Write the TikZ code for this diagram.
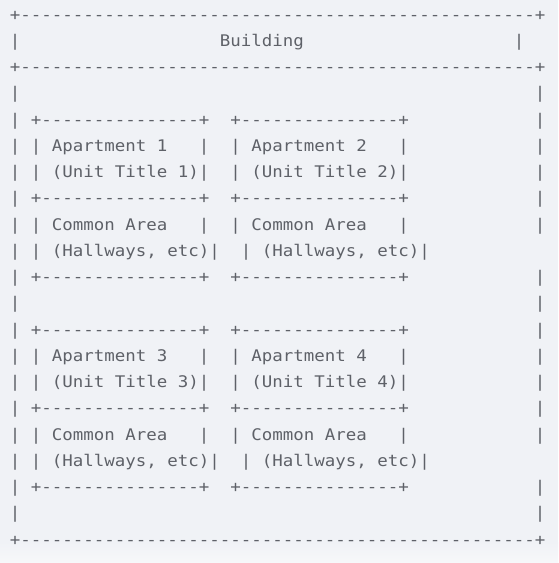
\documentclass[tikz,border=0pt]{standalone}
\usepackage{fontspec}
\setmonofont[FakeStretch=1.09,Ligatures=TeXOff]{DejaVu Sans Mono}
\definecolor{page-bg}{HTML}{F0F2F6}
\definecolor{page-fade}{HTML}{F7F8FA}
\definecolor{ascii-gray}{HTML}{5E6168}

\begin{document}
\begin{tikzpicture}[
      x=10.5pt, y=-26.25pt,
      ascii/.style={font=\ttfamily\fontsize{16pt}{18pt}\selectfont, text=ascii-gray, inner sep=0pt, anchor=base west}
    ]
      \fill[page-bg] (-9.75pt,20pt) rectangle (548.25pt,-543pt);
      \shade[top color=page-bg, bottom color=page-fade] (-9.75pt,-522pt) rectangle (548.25pt,-543pt);
      \useasboundingbox (-9.75pt,20pt) rectangle (548.25pt,-543pt);
      \foreach \r in {0,2,20}
        \node[ascii] (rule-\r) at (0,\r) {+-------------------------------------------------+};
      \node[ascii] (title-left) at (0,1) {|};
      \node[ascii] (title) at (20,1) {Building};
      \node[ascii] (title-right) at (48,1) {|};
      \foreach \r in {3,...,19}
        \node[ascii] (wall-left-\r) at (0,\r) {|};
      \foreach \r in {3,4,5,6,7,8,10,11,12,13,14,15,16,18,19}
        \node[ascii] (wall-right-\r) at (50,\r) {|};
      \foreach \r/\a/\b in {4/1/2, 12/3/4} {
        \foreach \d in {0,3,6} {
          \node[ascii] (frame-\a-\d) at (2,\r+\d) {+---------------+};
          \node[ascii] (frame-\b-\d) at (21,\r+\d) {+---------------+};
        }
        \foreach \d in {1,2,4,5}
          \node[ascii] (side-\a-\d) at (2,\r+\d) {|};
        \foreach \d in {1,2,4}
          \node[ascii] (side-\b-\d) at (21,\r+\d) {|};
        \node[ascii] (side-\b-5) at (22,\r+5) {|};
        \foreach \d in {1,4} {
          \node[ascii] (end-\a-\d) at (18,\r+\d) {|};
          \node[ascii] (end-\b-\d) at (37,\r+\d) {|};
        }
        \node[ascii] (apt-\a) at (4,\r+1) {Apartment \a};
        \node[ascii] (apt-\b) at (23,\r+1) {Apartment \b};
        \node[ascii] (unit-\a) at (4,\r+2) {(Unit Title \a)|};
        \node[ascii] (unit-\b) at (23,\r+2) {(Unit Title \b)|};
        \node[ascii] (common-\a) at (4,\r+4) {Common Area};
        \node[ascii] (common-\b) at (23,\r+4) {Common Area};
        \node[ascii] (hall-\a) at (4,\r+5) {(Hallways, etc)|};
        \node[ascii] (hall-\b) at (24,\r+5) {(Hallways, etc)|};
      }
    \end{tikzpicture}
\end{document}
